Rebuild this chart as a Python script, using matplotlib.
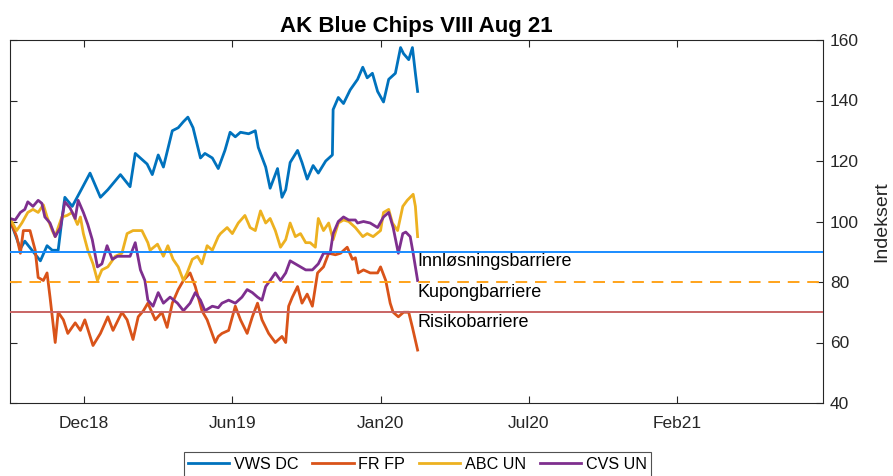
import pandas as pd
import matplotlib
matplotlib.use("Agg")
import matplotlib.pyplot as plt
import matplotlib.dates as mdates

plt.rcParams['font.family'] = ['Liberation Sans', 'DejaVu Sans']

start = pd.Timestamp('2018-08-23')
end = pd.Timestamp('2021-08-24')

# days after start / index level
vws_days = [0, 14, 20, 41, 50, 57, 65, 70, 74, 84, 95, 108, 122, 132, 149, 162, 169, 185, 192, 200,
            207, 219, 227, 234, 240, 247, 257, 263, 273, 281, 290, 297, 304, 311, 322, 331, 335, 345, 351, 361,
            367, 372, 378, 388, 394, 401, 409, 416, 426, 435, 436, 443, 450, 459, 469, 476, 482, 489, 496, 504,
            511, 520, 527, 531, 538, 543, 547, 550]
vws = [100.5, 91, 93.5, 87, 92, 90.5, 90.5, 100.5, 108, 105, 110, 116, 108, 110.5, 115.5, 111.5, 122.5, 119, 115.5, 122,
       118, 130, 131, 133, 134.5, 131, 121, 122.5, 121, 117.5, 123.5, 129.5, 128, 129.5, 129, 130, 124.5, 118, 111, 117.5,
       108, 110.5, 119.5, 123.5, 119.5, 114, 118.5, 116, 120, 122, 137, 141, 139, 143.5, 147, 151, 147.5, 149, 143, 139.5,
       147, 149, 157.5, 155.5, 153.5, 157.5, 149, 143]

fr_days = [0, 9, 14, 18, 27, 34, 38, 45, 50, 54, 61, 65, 72, 78, 88, 95, 101, 112, 122, 132,
           139, 151, 158, 166, 173, 180, 186, 196, 205, 212, 219, 227, 234, 243, 250, 259, 266, 277, 281, 286,
           295, 304, 311, 320, 327, 334, 340, 349, 358, 367, 372, 376, 381, 388, 394, 401, 408, 415, 423, 430,
           439, 446, 455, 462, 466, 470, 477, 486, 496, 500, 507, 513, 517, 524, 531, 538, 543, 550]
fr = [100.5, 95, 89.5, 97, 97, 90.5, 81.5, 80.5, 83, 75, 60, 70, 67.5, 63, 66.5, 64, 67.5, 59, 63, 68.5,
      64, 70, 67.5, 61, 68.5, 70.5, 73, 67.5, 70, 65, 73, 77.5, 80.5, 83, 78.5, 70.5, 67.5, 60, 62, 63,
      64, 72, 67.5, 63, 68.5, 73, 67.5, 63, 60, 62, 60, 72, 75, 78.5, 73, 76, 72, 83, 85, 89.5,
      89, 89.5, 91.5, 87.5, 88, 83, 84, 83, 83, 85, 80.5, 73, 70, 68.5, 70, 70, 65, 57.5]

abc_days = [0, 9, 16, 24, 31, 38, 45, 50, 57, 61, 65, 70, 77, 84, 91, 95, 99, 105, 112, 118,
            124, 132, 142, 151, 158, 166, 178, 186, 189, 199, 207, 213, 220, 227, 234, 239, 246, 253, 259, 266,
            273, 281, 284, 293, 300, 308, 317, 324, 331, 338, 345, 351, 358, 365, 372, 378, 385, 392, 399, 405,
            412, 416, 423, 430, 436, 443, 450, 457, 466, 476, 482, 490, 500, 504, 511, 516, 523, 530, 536, 540,
            544, 547, 550]
abc = [101, 97, 99.5, 103, 104, 103, 105.5, 101.5, 97, 95, 98, 101.5, 102, 103, 99, 101.5, 96, 90.5, 86, 80.5,
       84, 85, 88.5, 89.5, 96, 97, 97, 93, 90.5, 92.5, 88.5, 92, 87.5, 85, 80.5, 83, 87.5, 88.5, 86, 92,
       90.5, 95, 96, 98, 96, 99.5, 102, 98, 97, 103.5, 99.5, 101, 97, 91.5, 94, 99.5, 95, 96, 93, 93,
       91.5, 101, 97, 99.5, 94, 99.5, 100.5, 100, 98, 95, 96, 95, 97, 103, 104, 99.5, 97, 105, 107, 108,
       109, 105, 95]

cvs_days = [0, 7, 14, 20, 24, 31, 38, 43, 47, 54, 61, 68, 74, 81, 88, 92, 99, 105, 111, 118,
            124, 131, 138, 145, 153, 162, 169, 176, 182, 186, 193, 200, 207, 216, 226, 234, 243, 250, 257, 263,
            273, 281, 286, 295, 304, 313, 320, 327, 334, 340, 345, 351, 358, 365, 372, 378, 385, 392, 399, 408,
            416, 423, 432, 436, 443, 450, 457, 466, 469, 477, 486, 496, 504, 511, 517, 524, 530, 534, 540, 544,
            547, 550]
cvs = [101, 100.5, 103, 104, 106.5, 105, 107, 106, 101.5, 99.5, 95, 98, 106.5, 104.5, 101, 107, 103, 99, 94, 85,
       86, 92, 87.5, 88.5, 88.5, 88.5, 93, 84, 80.5, 74, 72, 76.5, 73, 75, 73, 70.5, 73, 76.5, 74, 70.5,
       72, 71.5, 73, 74, 73, 75, 77.5, 76.5, 75, 74, 78.5, 80.5, 83, 80.5, 83, 87, 86, 85, 84, 84,
       86, 89.5, 89.5, 96, 100, 101.5, 100.5, 100.5, 99.5, 100, 99.5, 98, 101.5, 103, 98, 89.5, 96, 96.5, 95, 89.5,
       85, 80.5]

names = ['VWS DC', 'FR FP', 'ABC UN', 'CVS UN']
colors = ['#0072BD', '#D95319', '#EDB120', '#7E2F8E']
barriers = [90, 80, 70]
barrier_names = ['Innløsningsbarriere', 'Kupongbarriere', 'Risikobarriere']
barrier_colors = ['#1a8cff', '#ffa31a', '#c86464']
barrier_styles = ['-', '--', '-']

tick_dates = pd.date_range('2018-12-01', periods=5, freq='200D')

fig = plt.figure(figsize=(8.93, 4.76), dpi=100)
ax = fig.add_axes([10/893, 1-403/476, 813/893, 363/476])

series = [(vws_days, vws), (fr_days, fr), (abc_days, abc), (cvs_days, cvs)]
for (d, v), name, c in zip(series, names, colors):
    dates = start + pd.to_timedelta(d, unit='D')
    ax.plot(dates, v, color=c, linewidth=2.0, label=name)

last_date = start + pd.Timedelta(days=550)
for b, bn, bc, bs in zip(barriers, barrier_names, barrier_colors, barrier_styles):
    if bs == '--':
        ax.axhline(b, color=bc, linestyle='--', dashes=(6, 4), linewidth=1.4, zorder=5)
    else:
        ax.axhline(b, color=bc, linestyle='-', linewidth=1.4, zorder=5)
    ax.text(last_date, b - 0.5, bn, ha='left', va='top', fontsize=13, color='black', zorder=6)

ax.set_xlim(start, end)
ax.set_ylim(40, 160)
ax.set_yticks(range(40, 161, 20))
ax.set_xticks(tick_dates)
ax.xaxis.set_major_formatter(mdates.DateFormatter('%b%y'))

ax.yaxis.tick_right()
ax.yaxis.set_label_position('right')
ax.tick_params(direction='in', top=True, bottom=True, left=True, right=True,
               length=5, width=0.8, colors='#262626', labelsize=12.5)
ax.tick_params(axis='x', pad=9)
ax.tick_params(axis='y', pad=5)
for s in ax.spines.values():
    s.set_color('#262626')
    s.set_linewidth(0.8)
ax.set_ylabel('Indeksert', fontsize=14, color='#262626', labelpad=10)
ax.set_title('AK Blue Chips VIII Aug 21', fontsize=16, fontweight='bold', pad=6)

leg = fig.legend(loc='upper center', bbox_to_anchor=(417.5/893, 1-452/476), ncol=4,
                 fontsize=11.6, frameon=True, fancybox=False, edgecolor='#262626',
                 handlelength=2.55, handletextpad=0.3, columnspacing=0.85, borderpad=0.3,
                 borderaxespad=0)
leg.get_frame().set_linewidth(0.8)

fig.savefig('out.png', dpi=100)
